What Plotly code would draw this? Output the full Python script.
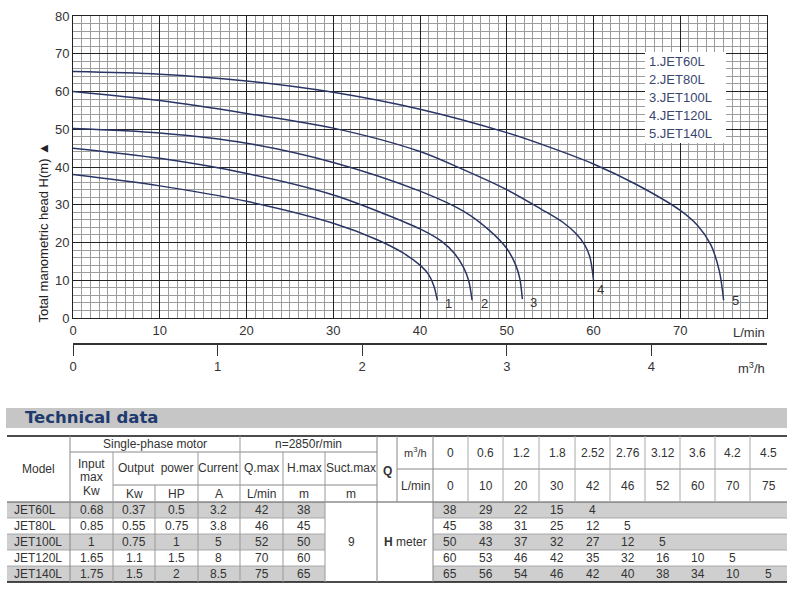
import plotly.graph_objects as go

W, H = 794, 592

# ---------------- chart data ----------------
curve_names = ["1", "2", "3", "4", "5"]
legend_labels = ["1.JET60L", "2.JET80L", "3.JET100L", "4.JET120L", "5.JET140L"]

q1 = [0, 10, 20, 30, 35, 38, 40, 41, 41.6, 42]
h1 = [38, 35, 30.9, 25.1, 20.8, 17.3, 14, 11.5, 8.5, 4.7]
q2 = [0, 10, 20, 30, 36, 40, 42.5, 44, 45, 45.6, 46]
h2 = [45, 42.3, 38.3, 32.6, 27.5, 23.6, 20.3, 17, 13.5, 10, 4.7]
q3 = [0, 10, 20, 30, 40, 45, 48, 50, 51, 51.5, 51.8]
h3 = [50.2, 49, 46.3, 41.2, 33.6, 28.3, 23.2, 18.4, 14.2, 10.5, 5]
q4 = [0, 10, 20, 30, 40, 45, 50, 54, 56.5, 58, 59, 59.6, 60]
h4 = [60, 57.6, 54.2, 50.3, 44.1, 39.3, 34, 28.8, 25.3, 22.3, 19.3, 16, 10]
q5 = [0, 10, 20, 30, 40, 50, 55, 60, 65, 70, 72, 73.5, 74.5, 75]
h5 = [65.3, 64.6, 62.8, 59.8, 55.3, 49.1, 45.2, 40.8, 35.3, 28.5, 24.5, 19.5, 12.5, 4.7]

x_ticks_lmin = [0, 10, 20, 30, 40, 50, 60, 70]
y_ticks = [0, 10, 20, 30, 40, 50, 60, 70, 80]
x_ticks_m3h = [0, 1, 2, 3, 4]

# ---------------- table data ----------------
models = ["JET60L", "JET80L", "JET100L", "JET120L", "JET140L"]
input_kw = ["0.68", "0.85", "1", "1.65", "1.75"]
output_kw = ["0.37", "0.55", "0.75", "1.1", "1.5"]
output_hp = ["0.5", "0.75", "1", "1.5", "2"]
current_a = ["3.2", "3.8", "5", "8", "8.5"]
q_max = ["42", "46", "52", "70", "75"]
h_max = ["38", "45", "50", "60", "65"]
suction_max = "9"
q_m3h = ["0", "0.6", "1.2", "1.8", "2.52", "2.76", "3.12", "3.6", "4.2", "4.5"]
q_lmin = ["0", "10", "20", "30", "42", "46", "52", "60", "70", "75"]
h_meter = [
    ["38", "29", "22", "15", "4", "", "", "", "", ""],
    ["45", "38", "31", "25", "12", "5", "", "", "", ""],
    ["50", "43", "37", "32", "27", "12", "5", "", "", ""],
    ["60", "53", "46", "42", "35", "32", "16", "10", "5", ""],
    ["65", "56", "54", "46", "42", "40", "38", "34", "10", "5"],
]

# ---------------- styling ----------------
CURVE = "#2a3566"
TXT = "#333333"
FONT = "Liberation Sans, Arial, sans-serif"


def px(x):
    return x / W


def py(y):
    return 1 - y / H


fig = go.Figure()
curves = [(q1, h1), (q2, h2), (q3, h3), (q4, h4), (q5, h5)]
for name, (q, h) in zip(curve_names, curves):
    fig.add_trace(go.Scatter(x=q, y=h, mode="lines", name=name,
                             line=dict(color=CURVE, width=1.5, shape="spline", smoothing=0.9),
                             showlegend=False, hoverinfo="skip"))

# invisible trace to activate m3/h axis
fig.add_trace(go.Scatter(x=[0, 4.8], y=[None, None], xaxis="x2", mode="lines",
                         showlegend=False, hoverinfo="skip"))

shapes = []
ann = []

# curve end labels
label_shift = [(6, -3), (7, -3), (6, -3), (1, -9), (6, 0)]
for name, (q, h), (dx, dy) in zip(curve_names, curves, label_shift):
    ann.append(dict(x=q[-1], y=h[-1], xref="x", yref="y", text=name, showarrow=False,
                    xanchor="left", yanchor="middle", xshift=dx, yshift=dy,
                    font=dict(family=FONT, size=13, color=TXT)))

# legend box
shapes.append(dict(type="rect", xref="paper", yref="paper", x0=px(645), x1=px(726),
                   y0=py(143), y1=py(52), fillcolor="white", line=dict(width=0), layer="above"))
for i, lab in enumerate(legend_labels):
    ann.append(dict(x=px(647), y=py(62 + i * 17.9), xref="paper", yref="paper", text=lab,
                    showarrow=False, xanchor="left", yanchor="middle",
                    font=dict(family=FONT, size=13, color="#3a4670")))

# axis titles / units
ann.append(dict(x=px(33), y=py(233), xref="paper", yref="paper",
                text="Total manometric head H(m) ▲", textangle=-90, showarrow=False,
                font=dict(family=FONT, size=13, color="#222")))
ann.append(dict(x=px(767), y=py(332), xref="paper", yref="paper", text="L/min",
                showarrow=False, xanchor="right", yanchor="middle",
                font=dict(family=FONT, size=13, color=TXT)))
ann.append(dict(x=px(767), y=py(368), xref="paper", yref="paper", text="m<sup>3</sup>/h",
                showarrow=False, xanchor="right", yanchor="middle",
                font=dict(family=FONT, size=13, color=TXT)))

# ---------------- table drawing ----------------
def hline(y, x0, x1, color="#888", width=1):
    shapes.append(dict(type="line", xref="paper", yref="paper", x0=px(x0), x1=px(x1),
                       y0=py(y), y1=py(y), line=dict(color=color, width=width)))


def vline(x, y0, y1, color="#888", width=1):
    shapes.append(dict(type="line", xref="paper", yref="paper", x0=px(x), x1=px(x),
                       y0=py(y0), y1=py(y1), line=dict(color=color, width=width)))


def rect(x0, x1, y0, y1, color):
    shapes.append(dict(type="rect", xref="paper", yref="paper", x0=px(x0), x1=px(x1),
                       y0=py(y1), y1=py(y0), fillcolor=color, line=dict(width=0), layer="below"))


def text(x, y, s, size=12, bold=False, color=TXT, anchor="center"):
    if bold:
        s = "<b>" + s + "</b>"
    ann.append(dict(x=px(x), y=py(y), xref="paper", yref="paper", text=s, showarrow=False,
                    xanchor=anchor, yanchor="middle",
                    font=dict(family=FONT, size=size, color=color)))


# title band
rect(6, 787, 408, 428, "#c6c6c6")
ann.append(dict(x=px(23), y=py(418), xref="paper", yref="paper", text="<b>Technical data</b>",
                showarrow=False, xanchor="left", yanchor="middle",
                font=dict(family="DejaVu Sans, sans-serif", size=16.5, color="#1e3a6e")))

L = [7, 70, 113, 155, 198, 240, 283, 325, 377]
RC = [433, 468, 503, 539, 575, 610, 645, 680, 715, 750, 787]
ROWS = [502, 518, 534, 550, 566, 582]

# shaded rows
for r in (0, 2, 4):
    rect(7, 325, ROWS[r], ROWS[r + 1], "#cfcfcf")
    rect(433, 787, ROWS[r], ROWS[r + 1], "#cfcfcf")

# header lines
hline(436, 7, 787, "#111", 1.5)
hline(452, 70, 377)
hline(485, 113, 377)
hline(469, 397, 787)
hline(502, 7, 787, "#555", 1)
for r in range(1, 5):
    hline(ROWS[r], 7, 325, "#999", 0.8)
    hline(ROWS[r], 433, 787, "#999", 0.8)
hline(582, 7, 787, "#111", 1.5)

vline(70, 436, 582)
vline(113, 452, 582, "#999")
vline(155, 485, 582, "#999")
vline(198, 452, 582, "#999")
vline(240, 436, 582, "#999")
vline(283, 452, 582, "#999")
vline(325, 452, 582, "#999")
vline(377, 436, 582)
vline(397, 436, 502)
vline(433, 436, 582)
for x in RC[1:-1]:
    vline(x, 436, 502, "#aaa")

# header texts
text(38.5, 469, "Model")
text(155, 444, "Single-phase motor")
text(308.5, 444, "n=2850r/min")
text(91.5, 464, "Input")
text(91.5, 477, "max")
text(91.5, 491, "Kw")
text(155.5, 468, "Output  power")
text(219, 468, "Current")
text(261.5, 468, "Q.max")
text(304, 468, "H.max")
text(351, 468, "Suct.max")
for x0, x1, s in [(113, 155, "Kw"), (155, 198, "HP"), (198, 240, "A"), (240, 283, "L/min"),
                  (283, 325, "m"), (325, 377, "m")]:
    text((x0 + x1) / 2, 493.5, s)
text(387, 471, "Q", bold=True)
text(415, 452, "m<sup>3</sup>/h", size=11)
text(415, 486, "L/min")
for i in range(10):
    cx = (RC[i] + RC[i + 1]) / 2
    text(cx, 453, q_m3h[i])
    text(cx, 486, q_lmin[i])

# data rows
cols = [models, input_kw, output_kw, output_hp, current_a, q_max, h_max]
for r in range(5):
    cy = (ROWS[r] + ROWS[r + 1]) / 2
    text(12, cy, models[r], anchor="left")
    for c in range(1, 7):
        text((L[c] + L[c + 1]) / 2, cy, cols[c][r])
    for i in range(10):
        if h_meter[r][i]:
            text((RC[i] + RC[i + 1]) / 2, cy, h_meter[r][i])
text(351, 542, suction_max)
text(405, 542, "<b>H</b> meter")

fig.update_layout(
    width=W, height=H, margin=dict(l=0, r=0, t=0, b=0, pad=0, autoexpand=False),
    paper_bgcolor="white", plot_bgcolor="white",
    font=dict(family=FONT, size=13, color=TXT),
    shapes=shapes, annotations=ann,
    xaxis=dict(domain=[px(73), px(767)], range=[0, 80], tickvals=x_ticks_lmin,
               showgrid=True, gridcolor="#222", gridwidth=1,
               minor=dict(dtick=1, showgrid=True, gridcolor="#9c9c9c", gridwidth=1),
               showline=True, mirror=True, linecolor="#222", linewidth=1,
               zeroline=False, ticks="", automargin=False, tickfont=dict(size=13, color=TXT)),
    yaxis=dict(domain=[py(318), py(16)], range=[0, 80], tickvals=y_ticks,
               showgrid=True, gridcolor="#222", gridwidth=1,
               minor=dict(dtick=2, showgrid=True, gridcolor="#9c9c9c", gridwidth=1),
               showline=True, mirror=True, linecolor="#222", linewidth=1,
               zeroline=False, ticks="", automargin=False, tickfont=dict(size=13, color=TXT)),
    xaxis2=dict(overlaying="x", anchor="free", position=py(344), side="bottom",
                range=[0, 4.8], tickvals=x_ticks_m3h, ticks="outside", ticklen=11,
                tickcolor="#333", showline=True, linecolor="#333", linewidth=1.5,
                showgrid=False, zeroline=False, automargin=False,
                tickfont=dict(size=13, color=TXT)),
)

fig.write_html("out.html")
